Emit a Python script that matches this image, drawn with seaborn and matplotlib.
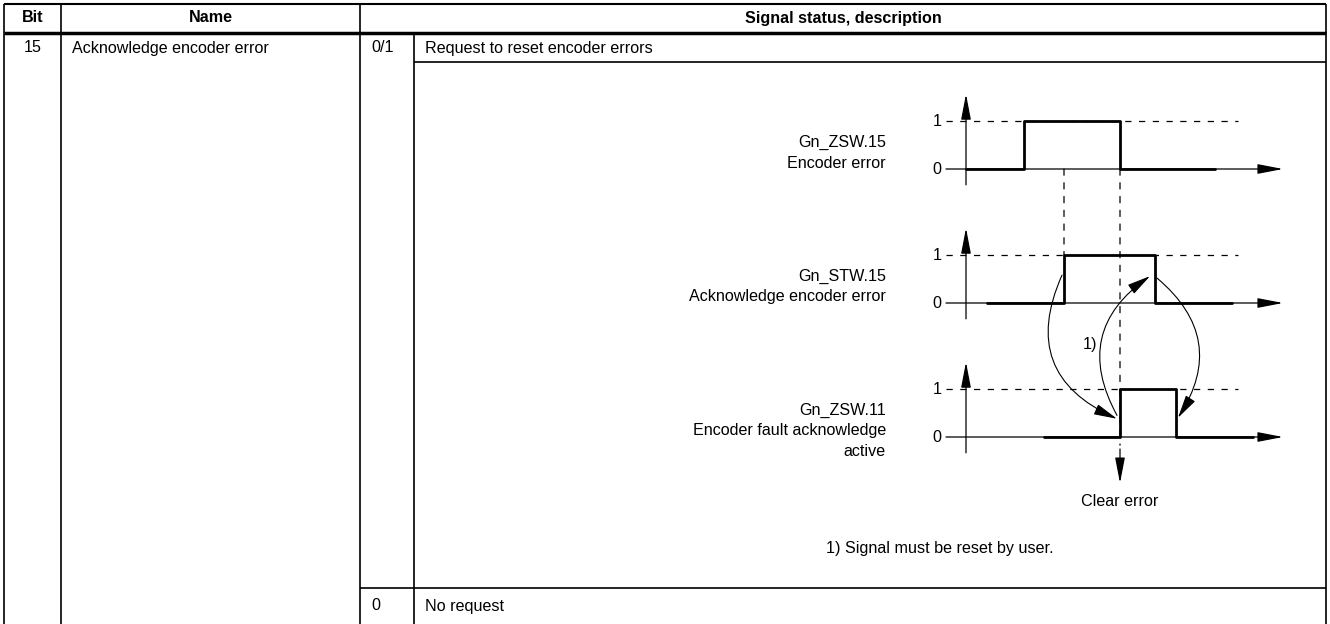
import matplotlib
matplotlib.use("Agg")
import matplotlib.pyplot as plt
import seaborn as sns
import pandas as pd
from matplotlib.patches import ConnectionPatch

# ---------------- data ----------------
header_labels = ["Bit", "Name", "Signal status, description"]
bit_value = "15"
signal_name = "Acknowledge encoder error"
status_values = ["0/1", "0"]
status_descriptions = ["Request to reset encoder errors", "No request"]

diagram_signals = ["Gn_ZSW.15", "Gn_STW.15", "Gn_ZSW.11"]
diagram_descriptions = ["Encoder error", "Acknowledge encoder error",
                        "Encoder fault acknowledge\nactive"]
level_ticks = [0, 1]
zsw15_time = [0.0, 5.8, 15.4, 24.9]
zsw15_level = [0, 1, 0, 0]
stw15_time = [2.1, 9.8, 18.9, 26.6]
stw15_level = [0, 1, 0, 0]
zsw11_time = [7.8, 15.4, 21.0, 28.7]
zsw11_level = [0, 1, 0, 0]
footnote_marker = "1)"
footnote_text = "1) Signal must be reset by user."
clear_label = "Clear error"

# ---------------- style ----------------
sns.set_theme(style="white")
plt.rcParams["font.family"] = ["Liberation Sans", "DejaVu Sans"]
plt.rcParams["text.color"] = "black"
FS = 11.6
W, H = 1330, 624

fig = plt.figure(figsize=(W / 100, H / 100), dpi=100)
fig.patch.set_facecolor("white")
ax = fig.add_axes([0, 0, 1, 1])
ax.set_xlim(0, W)
ax.set_ylim(H, 0)
ax.axis("off")

# ---------------- table grid ----------------
x_left, x_bit, x_name, x_stat, x_right = 4, 61, 360, 414, 1326
y_top, y_head, y_req, y_last, y_bot = 4, 33, 62, 588, 624
lw_t = 1.2
ax.hlines(y_top, x_left, x_right, color="black", lw=1.5)
ax.hlines(y_head, x_left, x_right, color="black", lw=2.5)
ax.hlines([y_req], x_stat, x_right, color="black", lw=lw_t)
ax.hlines([y_last], x_name, x_right, color="black", lw=lw_t)
ax.vlines([x_left, x_bit, x_name, x_right], y_top, y_bot, color="black", lw=lw_t)
ax.vlines([x_stat], y_head, y_bot, color="black", lw=lw_t)

# header texts
ax.text((x_left + x_bit) / 2, 18, header_labels[0], ha="center", va="center", fontsize=FS, fontweight="bold")
ax.text((x_bit + x_name) / 2, 18, header_labels[1], ha="center", va="center", fontsize=FS, fontweight="bold")
ax.text((x_name + x_right) / 2, 18, header_labels[2], ha="center", va="center", fontsize=FS, fontweight="bold")

# body texts
ax.text((x_left + x_bit) / 2, 48, bit_value, ha="center", va="center", fontsize=FS)
ax.text(x_bit + 11, 48, signal_name, ha="left", va="center", fontsize=FS)
ax.text(x_name + 11, 48, status_values[0], ha="left", va="center", fontsize=FS)
ax.text(x_stat + 11, 48, status_descriptions[0], ha="left", va="center", fontsize=FS)
ax.text(x_name + 11, 606, status_values[1], ha="left", va="center", fontsize=FS)
ax.text(x_stat + 11, 606, status_descriptions[1], ha="left", va="center", fontsize=FS)

# ---------------- timing diagrams ----------------
base_y = [169, 303, 437]          # pixel row of level 0 for each signal
times = [zsw15_time, stw15_time, zsw11_time]
levels = [zsw15_level, stw15_level, zsw11_level]
X_ORIGIN, PX_T, PX_L = 966, 10.0, 48.0
ax_l, ax_r = 900, 1300
dash = (0, (5, 6))
head = "-|>,head_length=1.3,head_width=0.25"

sub_axes = []
for i, y0 in enumerate(base_y):
    top, bottom = y0 - 90, y0 + 30
    sa = fig.add_axes([ax_l / W, 1 - bottom / H, (ax_r - ax_l) / W, (bottom - top) / H])
    sa.set_xlim((ax_l - X_ORIGIN) / PX_T, (ax_r - X_ORIGIN) / PX_T)
    sa.set_ylim(-30 / PX_L, 90 / PX_L)
    sa.axis("off")
    sa.patch.set_alpha(0)
    # time axis with arrow
    sa.annotate("", xy=(31.7, 0), xytext=(-2, 0),
                arrowprops=dict(arrowstyle=head, mutation_scale=12, lw=0.9, color="black",
                                shrinkA=0, shrinkB=0), annotation_clip=False)
    # level axis with arrow
    sa.annotate("", xy=(0, 1.56), xytext=(0, -0.33),
                arrowprops=dict(arrowstyle=head, mutation_scale=12, lw=0.9, color="black",
                                shrinkA=0, shrinkB=0), annotation_clip=False)
    # dashed "1" level
    sa.plot([-2, 27.2], [1, 1], color="black", lw=0.9, ls=dash)
    for lv in level_ticks:
        sa.text(-2.9, lv, str(lv), ha="center", va="center", fontsize=FS)
    df = pd.DataFrame({"t": times[i], "level": levels[i]})
    sns.lineplot(data=df, x="t", y="level", ax=sa, color="black", lw=2.0,
                 drawstyle="steps-post", estimator=None, sort=False)
    sa.set_xlabel("")
    sa.set_ylabel("")
    # labels to the left
    ax.text(886, y0 - 27, diagram_signals[i], ha="right", va="center", fontsize=FS)
    for k, line in enumerate(diagram_descriptions[i].split("\n")):
        ax.text(886, y0 - 6 + 21 * k, line, ha="right", va="center", fontsize=FS)
    sub_axes.append(sa)

a1, a2, a3 = sub_axes

# dashed vertical connectors
for xa, ya, axb, yb in [(stw15_time[1], 0, a2, 1), (zsw15_time[2], 0, a3, -0.17)]:
    con = ConnectionPatch(xyA=(xa, ya), coordsA=a1.transData, xyB=(xa, yb), coordsB=axb.transData,
                          color="black", lw=0.9, ls=dash)
    fig.add_artist(con)

# clear-error arrow
a3.annotate("", xy=(zsw11_time[1], -0.96), xytext=(zsw11_time[1], -0.25),
            arrowprops=dict(arrowstyle=head, mutation_scale=12, lw=0.9, color="black",
                            shrinkA=0, shrinkB=0), annotation_clip=False)
ax.text(1120, 502, clear_label, ha="center", va="center", fontsize=FS)

# curved handshake arrows
curves = [
    ((9.6, 0.58), a2, (15.1, 0.38), a3, 0.5),
    ((15.1, 0.45), a3, (18.4, 0.56), a2, -0.45),
    ((19.1, 0.52), a2, (21.2, 0.40), a3, -0.44),
]
for pA, axA, pB, axB, rad in curves:
    con = ConnectionPatch(xyA=pA, coordsA=axA.transData, xyB=pB, coordsB=axB.transData,
                          arrowstyle="-|>,head_length=1.2,head_width=0.28", mutation_scale=12,
                          connectionstyle=f"arc3,rad={rad}", color="black", lw=0.8,
                          shrinkA=0, shrinkB=0)
    fig.add_artist(con)

ax.text(1090, 345, footnote_marker, ha="center", va="center", fontsize=FS)
ax.text(826, 549, footnote_text, ha="left", va="center", fontsize=FS)

fig.savefig("out.png", dpi=100, facecolor="white")
